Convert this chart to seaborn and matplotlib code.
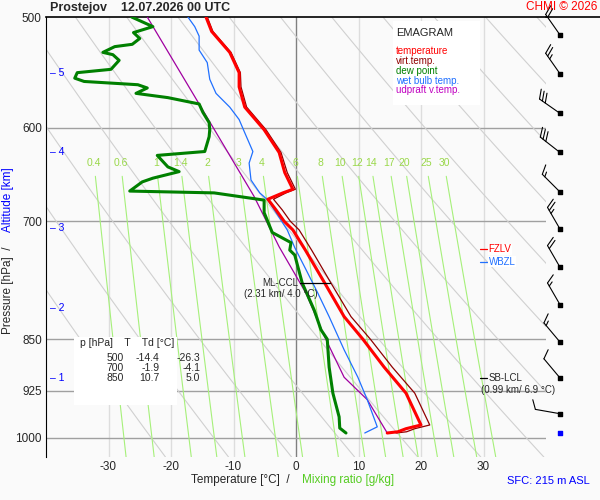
import numpy as np
import matplotlib
matplotlib.use('Agg')
import matplotlib.pyplot as plt
import seaborn as sns

sns.set_style('white')
plt.rcParams['font.family'] = ['Liberation Sans', 'DejaVu Sans']

# ---- sounding data ----
p_t = [500, 512, 530, 548, 561, 580, 602, 625, 646, 664, 668, 675, 687, 700, 710, 734, 775, 819, 850, 890, 929, 979, 985, 990, 992]
temp = [-14.4, -13.5, -10.6, -9.1, -9.1, -8.2, -5.1, -2.7, -1.8, -0.5, -2.1, -4.5, -3.2, -1.9, -0.5, 1.5, 4.6, 7.7, 10.7, 14.1, 17.6, 20.0, 17.6, 16.3, 14.6]
virt = [-14.2, -13.3, -10.4, -8.9, -8.8, -7.9, -4.8, -2.4, -1.4, -0.1, -1.6, -3.6, -2.2, -0.9, 0.5, 2.5, 5.6, 8.8, 11.9, 15.4, 19.0, 21.4, 19.0, 17.7, 16.0]
p_td = [500, 508, 513, 518, 523, 525, 530, 532, 537, 545, 548, 553, 556, 559, 562, 567, 571, 577, 585, 595, 602, 609, 624, 628, 640, 645, 652, 656, 666, 668, 676, 690, 713, 725, 734, 740, 775, 810, 837, 850, 890, 929, 966, 984, 992]
dewp = [-26.3, -22.9, -26.0, -25.0, -26.2, -29.0, -30.9, -29.3, -28.3, -29.6, -35.0, -35.4, -33.9, -25.3, -23.8, -25.6, -20.5, -15.5, -14.9, -13.9, -13.8, -13.9, -14.6, -22.2, -20.5, -18.7, -22.9, -24.6, -26.6, -13.1, -5.1, -5.1, -3.8, -0.8, -1.0, -0.2, 1.0, 2.9, 4.0, 5.0, 5.3, 5.9, 6.9, 7.0, 8.0]
p_wb = [500, 508, 516, 528, 539, 554, 567, 580, 592, 605, 624, 636, 654, 668, 676, 690, 710, 731, 758, 788, 819, 865, 905, 939, 982, 992]
wetb = [-17.3, -16.2, -15.5, -15.5, -14.2, -13.8, -12.8, -10.6, -9.1, -8.2, -6.9, -7.5, -7.2, -5.8, -4.5, -3.2, -1.4, -0.2, 1.6, 3.5, 5.3, 7.7, 9.9, 11.4, 13.0, 11.0]
p_parcel = [500, 577, 672, 730, 788, 847, 905, 939, 992]
parcel = [-23.8, -15.5, -6.7, -2.7, 1.6, 4.6, 7.7, 11.4, 14.6]

wind_p = [515, 549, 586, 625, 667, 709, 755, 803, 854, 906, 961]
wind_dir = [325, 325, 305, 308, 315, 330, 330, 330, 320, 320, 280]
wind_kt = [20, 25, 30, 30, 15, 25, 20, 15, 15, 10, 10]
calm_p = 992

alt_km = [1, 2, 3, 4, 5]
alt_p = [906, 808, 708, 625, 548]

table_p = [500, 700, 850]
table_t = [-14.4, -1.9, 10.7]
table_td = [-26.3, -4.1, 5.0]

mix_ratios = [0.4, 0.6, 1, 1.4, 2, 3, 4, 6, 8, 10, 12, 14, 17, 20, 25, 30]
p_ticks = [500, 600, 700, 850, 925, 1000]
t_ticks = [-30, -20, -10, 0, 10, 20, 30]

W, H = 600, 500
fig = plt.figure(figsize=(6, 5), dpi=100, facecolor='#fafafa')
ax = fig.add_axes([46 / W, 1 - 457 / H, 500 / W, 440 / H])
ax.set_facecolor('#fafafa')
ax.set_yscale('log')
ax.set_ylim(1032, 500)
ax.set_xlim(-40, 40)

# background: isotherms, isobars, dry adiabats, mixing ratio lines
for t in t_ticks:
    ax.axvline(t, color='#808080' if t == 0 else '#dddddd', lw=1, zorder=1)
for p in p_ticks[1:]:
    ax.axhline(p, color='#a0a0a0', lw=1, zorder=1)
pp = np.linspace(500, 1032, 100)
for th in range(250, 420, 10):
    ax.plot(th * (pp / 1000) ** 0.286 - 273.15, pp, color='#d0d0d0', lw=0.8, zorder=1)
pm = np.linspace(650, 1032, 50)
for w in mix_ratios:
    e = w * pm / (622 + w)
    l = np.log(e / 6.112)
    ax.plot(243.5 * l / (17.67 - l), pm, color='#a6f07a', lw=0.8, zorder=1)
    e0 = w * 636 / (622 + w)
    l0 = np.log(e0 / 6.112)
    ax.text(243.5 * l0 / (17.67 - l0), 636, f'{w:g}', color='#9ad84a', fontsize=7.5, ha='center', va='center')

# profiles
kw = dict(sort=False, estimator=None, ax=ax)
sns.lineplot(x=parcel, y=p_parcel, color='#a000a0', lw=0.9, zorder=3, **kw)
sns.lineplot(x=wetb, y=p_wb, color='#2070ff', lw=0.9, zorder=3, **kw)
sns.lineplot(x=virt, y=p_t, color='#900000', lw=0.9, zorder=3, **kw)
sns.lineplot(x=dewp, y=p_td, color='#008000', lw=2.2, zorder=4, **kw)
sns.lineplot(x=temp, y=p_t, color='#ff0000', lw=2.2, zorder=4, **kw)

# levels
ax.plot([0.6, 5.4], [775, 775], color='black', lw=0.9, zorder=5)
ax.text(-2.5, 782, 'ML-CCL\n(2.31 km/ 4.0 °C)', fontsize=7, ha='center', va='center', linespacing=1.1, zorder=6)
ax.plot([29.5, 30.5], [906, 906], color='black', lw=0.9)
ax.text(30.8, 906, 'SB-LCL', fontsize=7, va='center')
ax.text(35.5, 924, '(0.99 km/ 6.9 °C)', fontsize=7, ha='center', va='center')
ax.plot([29.5, 30.5], [733, 733], color='red', lw=0.9)
ax.text(30.8, 733, 'FZLV', fontsize=7, color='red', va='center',
        bbox=dict(facecolor='white', edgecolor='none', pad=0.5))
ax.plot([29.5, 30.5], [748, 748], color='#2070ff', lw=0.9)
ax.text(30.8, 748, 'WBZL', fontsize=7, color='#2070ff', va='center',
        bbox=dict(facecolor='white', edgecolor='none', pad=0.5))

# altitude markers
for k, p in zip(alt_km, alt_p):
    ax.text(-39.3, p, f'– {k}', color='blue', fontsize=7.5, va='center')

# legend box
ax.add_patch(plt.Rectangle((15.5, 503), 14, 75, facecolor='white', edgecolor='none', zorder=5))
ax.text(16, 513, 'EMAGRAM', fontsize=8, va='center', zorder=6)
for i, (lab, c) in enumerate([('temperature', '#ff0000'), ('virt.temp.', '#900000'), ('dew point', '#008000'),
                              ('wet bulb temp.', '#2070ff'), ('udpraft v.temp.', '#c000c0')]):
    ax.text(16, 529 * 1.0175 ** (i * 0.93), lab, color=c, fontsize=7, va='center', zorder=6)

# table
ax.add_patch(plt.Rectangle((-35.5, 847), 16.5, 100, facecolor='white', edgecolor='none', zorder=5))
ax.text(-34.5, 855, 'p [hPa]    T    Td [°C]', fontsize=7.5, va='center', zorder=6)
for i, (p, t, d) in enumerate(zip(table_p, table_t, table_td)):
    y = 877 * 1.0166 ** i
    ax.text(-27.5, y, f'{p}', fontsize=7.5, ha='right', va='center', zorder=6)
    ax.text(-21.8, y, f'{t:.1f}', fontsize=7.5, ha='right', va='center', zorder=6)
    ax.text(-15.3, y, f'{d:.1f}', fontsize=7.5, ha='right', va='center', zorder=6)

ax.set_yticks(p_ticks)
ax.set_yticklabels([str(p) for p in p_ticks], fontsize=8.5)
ax.yaxis.set_minor_locator(matplotlib.ticker.NullLocator())
ax.set_xticks(t_ticks)
ax.set_xticklabels([str(t) for t in t_ticks], fontsize=8.5)
ax.tick_params(length=0, pad=3)
for s in ['right', 'bottom']:
    ax.spines[s].set_visible(False)
ax.spines['left'].set_color('black')
ax.spines['top'].set_color('black')
ax.spines['top'].set_linewidth(1.2)
fig.add_artist(plt.Line2D([546 / W, 1], [1 - 17 / H] * 2, color='black', lw=1.2))

# wind barbs, drawn as line segments in figure pixels
bx = fig.add_axes([546 / W, 1 - 457 / H, 54 / W, 440 / H], sharey=ax)
bx.set_facecolor('none')
bx.set_xlim(0, 54)
bx.axis('off')
bx.set_ylim(1032, 500)
fig.canvas.draw()
shaft, blen, step = 25, 10, 3.5
for p, dd, s in zip(wind_p, wind_dir, wind_kt):
    x0, y0 = bx.transData.transform((14, p))
    sa = np.deg2rad(90 - dd)          # shaft points where the wind comes from
    ba = sa - np.deg2rad(65)          # barbs rotated clockwise
    ux, uy = np.cos(sa), np.sin(sa)
    vx, vy = np.cos(ba), np.sin(ba)
    segs = [((x0, y0), (x0 + ux * shaft, y0 + uy * shaft))]
    n_full, half = s // 10, (s % 10) >= 5
    for j in range(n_full):
        sx, sy = x0 + ux * (shaft - j * step), y0 + uy * (shaft - j * step)
        segs.append(((sx, sy), (sx + vx * blen, sy + vy * blen)))
    if half:
        d0 = shaft - n_full * step
        sx, sy = x0 + ux * d0, y0 + uy * d0
        segs.append(((sx, sy), (sx + vx * blen / 2, sy + vy * blen / 2)))
    for (xa, ya), (xb, yb) in segs:
        fig.add_artist(plt.Line2D([xa, xb], [ya, yb], transform=None, color='black', lw=0.8))
bx.scatter([14] * len(wind_p), wind_p, s=7, marker='s', color='black', zorder=3)
bx.scatter([14], [calm_p], s=7, marker='s', color='blue', zorder=3)

# titles and axis labels
fig.text(50 / W, 1 - 8 / H, 'Prostejov    12.07.2026 00 UTC', fontsize=9, weight='bold', va='center')
fig.text(597 / W, 1 - 7 / H, 'CHMI © 2026', fontsize=8.5, color='red', ha='right', va='center')
fig.text(8 / W, 1 - 290 / H, 'Pressure [hPa]  /', fontsize=8.5, rotation=90, ha='center', va='center')
fig.text(8 / W, 1 - 200 / H, 'Altitude [km]', fontsize=8.5, color='blue', rotation=90, ha='center', va='center')
fig.text(290 / W, 1 - 480 / H, 'Temperature [°C]  /', fontsize=8.5, ha='right', va='center')
fig.text(302 / W, 1 - 480 / H, 'Mixing ratio [g/kg]', fontsize=8.5, color='#55cc22', ha='left', va='center')
fig.text(590 / W, 1 - 481 / H, 'SFC: 215 m ASL', fontsize=8, color='blue', ha='right', va='center')

fig.savefig('out.png', dpi=100, facecolor='#fafafa')
